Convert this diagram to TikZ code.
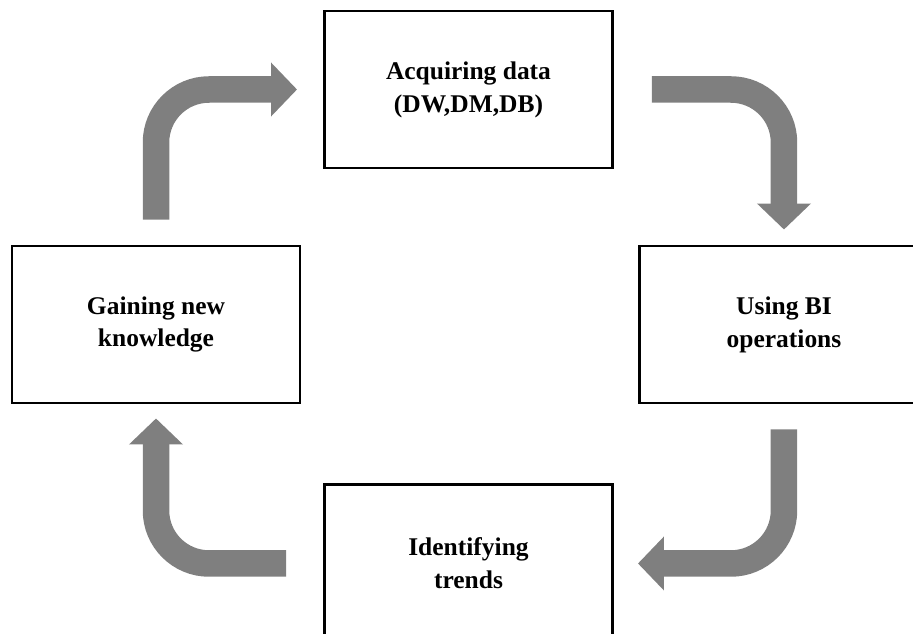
\documentclass[tikz,border=0pt]{standalone}
\usepackage{fontspec}
\setmainfont{Liberation Serif}
\usetikzlibrary{positioning}
\usetikzlibrary{arrows.meta}

\definecolor{arrowgray}{RGB}{127,127,127}

\tikzset{
  stagebox/.style={rectangle, draw, line width=1.7pt, minimum width=5.76cm, minimum height=3.14cm, align=center, font=\fontsize{14.5}{18.7}\selectfont\bfseries},
  bentarrow/.style={draw=arrowgray, line width=0.53cm, rounded corners=1.06cm, -{Triangle[length=0.52cm,width=1.05cm]}}
}

\begin{document}
\begin{tikzpicture}

\clip (0,0) rectangle (18.26,12.66);

\node[stagebox] (gain) at (3.12,6.17) {Gaining new\\knowledge};

\node[stagebox] (acq) at (9.37,10.87) {Acquiring data\\(DW,DM,DB)};

\node[right=6.74cm of gain, stagebox] (using) {Using BI\\operations};

\node[below=6.28cm of acq, stagebox] (ident) {Identifying\\trends};


% cycle arrows

\draw[bentarrow] ([yshift=0.5cm]gain.north) |- ([xshift=-0.52cm]acq.west);

\draw[bentarrow] ([xshift=0.76cm]acq.east) -| ([yshift=0.3cm]using.north);

\draw[bentarrow] ([yshift=-0.5cm]using.south) |- ([xshift=0.48cm]ident.east);

\draw[bentarrow] ([xshift=-0.74cm]ident.west) -| ([yshift=-0.28cm]gain.south);

\end{tikzpicture}
\end{document}
